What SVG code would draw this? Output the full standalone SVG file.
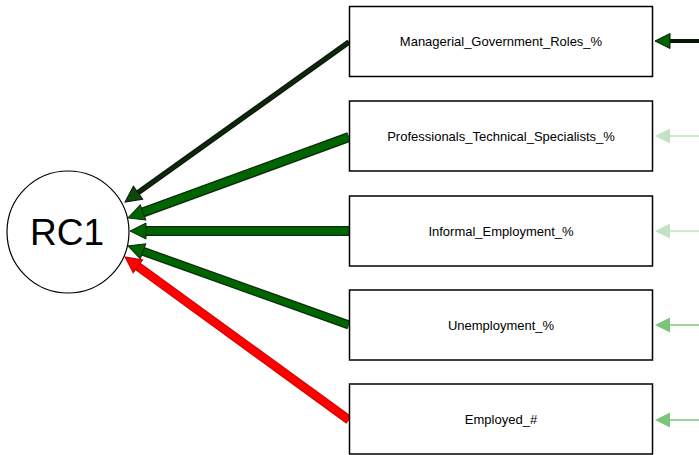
<svg xmlns="http://www.w3.org/2000/svg" width="699" height="455" viewBox="0 0 699 455">
<style>
.box{fill:#fff;stroke:#000;stroke-width:1.5}
.lbl{font-family:"Liberation Sans",Arial,sans-serif;font-size:13px;fill:#000;text-anchor:middle;dominant-baseline:central}
.big{font-family:"Liberation Sans",Arial,sans-serif;font-size:37px;fill:#000;text-anchor:middle;dominant-baseline:central}
.edge{fill:none;stroke-linecap:butt}
</style>
<defs>
<marker id="hDark" markerUnits="userSpaceOnUse" markerWidth="20" markerHeight="20" refX="1" refY="8" orient="auto" overflow="visible">
<polygon points="0,0 16,8 0,16" fill="#0a4a0a" stroke="#061806" stroke-width="1"/>
</marker>
<marker id="hGreen" markerUnits="userSpaceOnUse" markerWidth="20" markerHeight="20" refX="1" refY="8" orient="auto" overflow="visible">
<polygon points="0,0 16,8 0,16" fill="#006400" stroke="#0a2a0a" stroke-width="1"/>
</marker>
<marker id="hRed" markerUnits="userSpaceOnUse" markerWidth="20" markerHeight="20" refX="1" refY="8" orient="auto" overflow="visible">
<polygon points="0,0 16,8 0,16" fill="#ff0000" stroke="#c00000" stroke-width="1"/>
</marker>
<marker id="hRight1" markerUnits="userSpaceOnUse" markerWidth="20" markerHeight="20" refX="1" refY="7.5" orient="auto" overflow="visible">
<polygon points="0,0 15,7.5 0,15" fill="#006400" stroke="#061806" stroke-width="1"/>
</marker>
<marker id="hLight" markerUnits="userSpaceOnUse" markerWidth="20" markerHeight="20" refX="1" refY="7.5" orient="auto" overflow="visible">
<polygon points="0,0 15,7.5 0,15" fill="#c2e2c2"/>
</marker>
<marker id="hMid" markerUnits="userSpaceOnUse" markerWidth="20" markerHeight="20" refX="1" refY="7.5" orient="auto" overflow="visible">
<polygon points="0,0 15,7.5 0,15" fill="#7cc47c"/>
</marker>
</defs>

<g id="connectors">
<path class="edge" d="M349,42 L137.2,193.3" stroke="#061806" stroke-width="5.5"/>
<path class="edge" d="M349,42 L137.2,193.3" stroke="#0d260d" stroke-width="3.5" marker-end="url(#hDark)"/>
<path class="edge" d="M349,137 L142.1,212.8" stroke="#0a2a0a" stroke-width="10"/>
<path class="edge" d="M349,137 L142.1,212.8" stroke="#006400" stroke-width="7.5" marker-end="url(#hGreen)"/>
<path class="edge" d="M349,231 L145,231" stroke="#0a2a0a" stroke-width="10"/>
<path class="edge" d="M349,231 L145,231" stroke="#006400" stroke-width="7.5" marker-end="url(#hGreen)"/>
<path class="edge" d="M349,325 L142.1,251" stroke="#0a2a0a" stroke-width="9"/>
<path class="edge" d="M349,325 L142.1,251" stroke="#006400" stroke-width="6.5" marker-end="url(#hGreen)"/>
<path class="edge" d="M349,420 L137.1,265.8" stroke="#d00000" stroke-width="9"/>
<path class="edge" d="M349,420 L137.1,265.8" stroke="#ff0000" stroke-width="7" marker-end="url(#hRed)"/>
<path class="edge" d="M699,41 L669,41" stroke="#061806" stroke-width="4" marker-end="url(#hRight1)"/>
<path class="edge" d="M699,136 L669,136" stroke="#c2e2c2" stroke-width="1.5" marker-end="url(#hLight)"/>
<path class="edge" d="M699,231 L669,231" stroke="#c2e2c2" stroke-width="1.5" marker-end="url(#hLight)"/>
<path class="edge" d="M699,325 L669,325" stroke="#7cc47c" stroke-width="1.5" marker-end="url(#hMid)"/>
<path class="edge" d="M699,420 L669,420" stroke="#7cc47c" stroke-width="1.5" marker-end="url(#hMid)"/>
</g>

<g id="RC1">
<circle cx="68" cy="232" r="61" fill="#fff" stroke="#000" stroke-width="1.2"/>
<text class="big" x="67" y="232">RC1</text>
</g>
<g id="Managerial_Government_Roles">
<rect class="box" x="349.5" y="6.5" width="303" height="70"/>
<text class="lbl" x="501" y="41.5">Managerial_Government_Roles_%</text>
</g>
<g id="Professionals_Technical_Specialists">
<rect class="box" x="349.5" y="101" width="303" height="70"/>
<text class="lbl" x="501" y="136">Professionals_Technical_Specialists_%</text>
</g>
<g id="Informal_Employment">
<rect class="box" x="349.5" y="196" width="303" height="70"/>
<text class="lbl" x="501" y="231">Informal_Employment_%</text>
</g>
<g id="Unemployment">
<rect class="box" x="349.5" y="290" width="303" height="70"/>
<text class="lbl" x="501" y="325">Unemployment_%</text>
</g>
<g id="Employed">
<rect class="box" x="349.5" y="384" width="303" height="70"/>
<text class="lbl" x="501" y="419">Employed_#</text>
</g>
</svg>
